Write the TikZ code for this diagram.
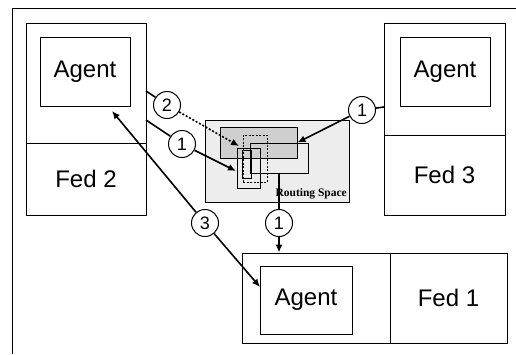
\documentclass[tikz,border=0pt]{standalone}
\usepackage{fontspec}
\setmainfont{Liberation Sans}
\newfontfamily\rsfont{Liberation Serif}
\usetikzlibrary{arrows.meta}
\tikzset{
  box/.style={draw, line width=1pt, inner sep=0pt},
  big/.style={font=\fontsize{24}{27}\selectfont},
  num/.style={circle, draw, fill=white, line width=1pt, minimum size=27pt, inner sep=0pt, font=\fontsize{18}{19}\selectfont},
  con/.style={line width=1.6pt},
  arr/.style={line width=1.6pt, -{Latex[length=8pt,width=7pt]}},
  dot/.style={line width=1.6pt, dash pattern=on 2pt off 1.8pt, -{Latex[length=8pt,width=7pt]}},
  rsbox/.style={draw, line width=0.9pt, inner sep=0pt}
}
\begin{document}
\begin{tikzpicture}[x=1pt,y=-1pt]
\useasboundingbox (0,0) rectangle (516,354);
% frame
\draw[line width=1pt] (12,354) -- (12,8) -- (516,8);

% Fed 2
\node[box, minimum width=120pt, minimum height=120pt] (f2top) at (86,83) {};
\node[box, big, minimum width=120pt, minimum height=72pt] (f2bot) at (86,179) {Fed 2};
\node[box, big, minimum width=90pt, minimum height=69pt] (a2) at (85,71.5) {Agent};

% Fed 3
\node[box, minimum width=121pt, minimum height=112pt] (f3top) at (444.5,79) {};
\node[box, big, minimum width=121pt, minimum height=80pt] (f3bot) at (444.5,175) {Fed 3};
\node[box, big, minimum width=90pt, minimum height=69pt] (a3) at (445,71.5) {Agent};

% Fed 1
\node[box, minimum width=148pt, minimum height=90pt] (f1left) at (316,298) {};
\node[box, big, minimum width=117pt, minimum height=90pt] (f1right) at (448.5,298) {Fed 1};
\node[box, big, minimum width=92pt, minimum height=68pt] (a1) at (306,300) {Agent};

% Routing space
\node[rsbox, fill=gray!14, minimum width=144pt, minimum height=82pt] (rs) at (277,161) {};
\node[rsbox, fill=gray!38, minimum width=77pt, minimum height=31pt] (rA) at (258.5,142.5) {};
\node[rsbox, dash pattern=on 2pt off 1.5pt, minimum width=24pt, minimum height=47pt] (rB) at (255,158.5) {};
\node[rsbox, minimum width=58pt, minimum height=30pt] (rC) at (279,158) {};
\node[rsbox, minimum width=23pt, minimum height=40pt] (rD) at (248.5,168) {};
\node[rsbox, minimum width=9pt, minimum height=28pt] (rE) at (246.5,164) {};
\node[font=\rsfont\bfseries\fontsize{11.5}{13}\selectfont, anchor=east, inner sep=0pt] (rslbl) at (347,194) {Routing Space};

% connector points
\coordinate (p1) at (146,120);
\coordinate (p2) at (146,91);
\coordinate (p3) at (384,107);
\coordinate (t1) at (236,171);
\coordinate (t2) at (239,146);
\coordinate (t3) at (112,111);
\coordinate (t4) at (260,287);

% circles
\node[num] (n2) at (167,105) {2};
\node[num] (n1a) at (182,144) {1};
\node[num] (n1b) at (362,110) {1};
\node[num] (n1c) at (279,223) {1};
\node[num] (n3) at (205,223) {3};

% connectors
\draw[con] (p2) -- (n2);
\draw[dot] (n2) -- (t2);
\draw[con] (p1) -- (n1a);
\draw[arr] (n1a) -- (t1);
\draw[con] (p3) -- (n1b);
\draw[arr] (n1b) -- (rA.east);
\draw[con] (rC.south) -- (n1c);
\draw[arr] (n1c) -- (n1c |- f1left.north);
\draw[arr] (n3) -- (t3);
\draw[arr] (n3) -- (t4);
\end{tikzpicture}
\end{document}
